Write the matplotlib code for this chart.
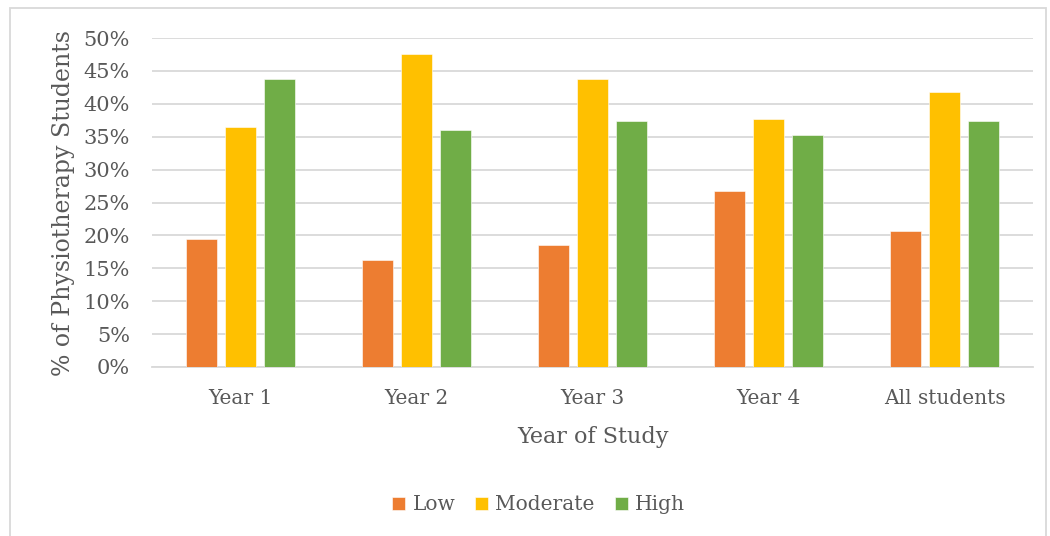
import matplotlib
matplotlib.use("Agg")
import matplotlib.pyplot as plt
import numpy as np
from matplotlib.patches import Rectangle

categories = ["Year 1", "Year 2", "Year 3", "Year 4", "All students"]
low = [19.4, 16.3, 18.6, 26.7, 20.6]
moderate = [36.5, 47.5, 43.7, 37.7, 41.8]
high = [43.8, 36.0, 37.4, 35.3, 37.4]
series_names = ["Low", "Moderate", "High"]
series_colors = ["#ED7D31", "#FFC000", "#70AD47"]
yticks = list(range(0, 51, 5))

plt.rcParams["font.family"] = ["DejaVu Serif"]
text_color = "#595959"

fig = plt.figure(figsize=(10.5, 5.36), dpi=100)
ax = fig.add_axes([0.1448, 0.3153, 0.839, 0.6138])

x = np.arange(len(categories))
width = 0.176
step = 0.221
for i, (vals, name, col) in enumerate(zip([low, moderate, high], series_names, series_colors)):
    ax.bar(x + (i - 1) * step, vals, width, color=col, label=name,
           edgecolor="white", linewidth=0.4, zorder=3)

ax.set_xlim(-0.5, len(categories) - 0.5)
ax.set_ylim(0, 50)
ax.set_yticks(yticks)
ax.set_yticklabels([f"{v}%" for v in yticks])
ax.set_xticks(x)
ax.set_xticklabels(categories)
ax.tick_params(axis="both", length=0, labelcolor=text_color)
ax.tick_params(axis="x", pad=16, labelsize=14.5)
ax.tick_params(axis="y", pad=16, labelsize=15)
ax.grid(True, axis="y", color="#D9D9D9", linewidth=1.3, zorder=0)
for s in ["top", "right", "left"]:
    ax.spines[s].set_visible(False)
ax.spines["bottom"].set_color("#D9D9D9")
ax.spines["bottom"].set_linewidth(1.3)

ax.set_xlabel("Year of Study", fontsize=16, color=text_color, labelpad=13)
ax.set_ylabel("% of Physiotherapy Students", fontsize=17, color=text_color, labelpad=6)

fig.legend(loc="center", bbox_to_anchor=(0.513, 0.058), ncol=3, frameon=False,
           fontsize=14.5, handlelength=0.65, handleheight=0.65, handletextpad=0.35,
           columnspacing=1.0, labelcolor=text_color)

fig.patches.append(Rectangle((10 / 1050, -0.05), 1036 / 1050, 1 - 8 / 536 + 0.05,
                             transform=fig.transFigure, fill=False,
                             edgecolor="#D9D9D9", linewidth=1.3))

plt.savefig("out.png", dpi=100, facecolor="white")
